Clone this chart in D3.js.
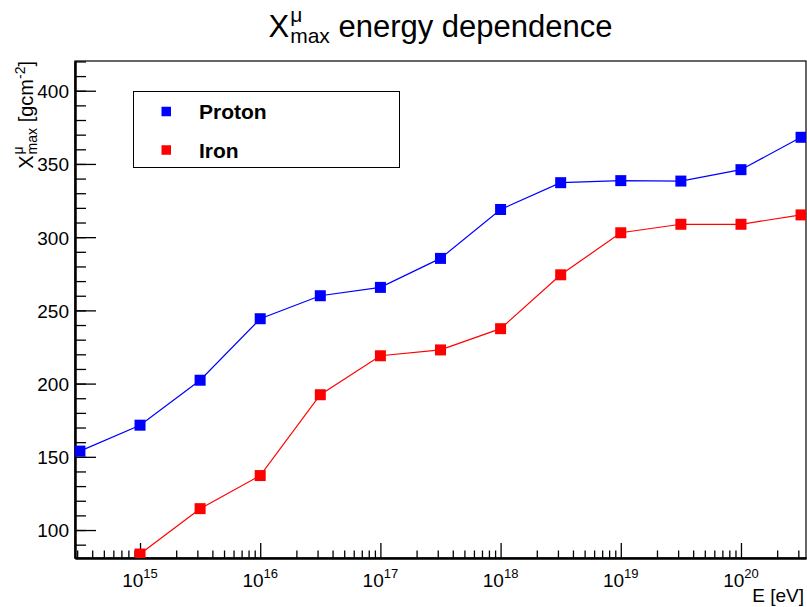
<!DOCTYPE html>
<html><head><meta charset="utf-8">
<script src="https://cdn.jsdelivr.net/npm/d3@7"></script>
<style>
body{margin:0;background:#fff}
svg{display:block}
text{font-family:"Liberation Sans",Arial,Helvetica,sans-serif;fill:#000}
</style>
</head><body>
<svg id="c" width="807" height="607"></svg>
<script>
// ---- data ----
const protonEnergy = [3.162e14, 1e15, 3.162e15, 1e16, 3.162e16, 1e17, 3.162e17, 1e18, 3.162e18, 1e19, 3.162e19, 1e20, 3.162e20];
const protonXmax   = [153.9, 171.6, 202.3, 244.3, 260.0, 265.7, 285.5, 318.9, 337.2, 338.6, 338.3, 346.1, 368.2];
const ironEnergy   = [1e15, 3.162e15, 1e16, 3.162e16, 1e17, 3.162e17, 1e18, 3.162e18, 1e19, 3.162e19, 1e20, 3.162e20];
const ironXmax     = [83.6, 114.6, 137.2, 192.4, 219.0, 223.0, 237.5, 274.3, 303.0, 308.8, 308.8, 315.2];
const seriesNames  = ["Proton", "Iron"];
const seriesColors = ["#0000ff", "#ff0000"];
const yTickValues  = [100, 150, 200, 250, 300, 350, 400];
const yMinorValues = [90,100,110,120,130,140,150,160,170,180,190,200,210,220,230,240,250,260,270,280,290,300,310,320,330,340,350,360,370,380,390,400,410,420];
const xTickExponents = [15, 16, 17, 18, 19, 20];
const xTickValues  = [1e15, 1e16, 1e17, 1e18, 1e19, 1e20];
const xMinorMantissa = [2,3,4,5,6,7,8,9];
const xMinorDecades  = [1e14,1e15,1e16,1e17,1e18,1e19,1e20];

// ---- layout ----
const L = 75, R = 806, T = 61, B = 558;
const svg = d3.select("#c");
const x = d3.scaleLog().domain([Math.pow(10,14.459), Math.pow(10,20.541)]).range([L, R]);
const y = d3.scaleLinear().domain([80.9, 420.3]).range([B, T]);

svg.append("defs").append("clipPath").attr("id","clip")
  .append("rect").attr("x",L).attr("y",T).attr("width",R-L).attr("height",B-T);

// frame
svg.append("rect").attr("x",L).attr("y",T).attr("width",R-L).attr("height",B-T)
  .attr("fill","none").attr("stroke","#000").attr("stroke-width",1.2);

// y axis
const yMinor = svg.append("g").attr("transform",`translate(${L},0)`)
  .call(d3.axisLeft(y).tickValues(yMinorValues.filter(v=>v>=y.domain()[0]&&v<=y.domain()[1])).tickSizeInner(-11).tickSizeOuter(0).tickFormat(""));
const yMajor = svg.append("g").attr("transform",`translate(${L},0)`)
  .call(d3.axisLeft(y).tickValues(yTickValues).tickSizeInner(-21).tickSizeOuter(0).tickPadding(6));
[yMinor,yMajor].forEach(g=>{
  g.select(".domain").attr("stroke","#000").attr("stroke-width",2);
  g.selectAll(".tick line").attr("stroke","#000").attr("stroke-width",1.3);
});
yMajor.selectAll(".tick text").attr("font-size",19).attr("fill","#000")
  .attr("font-family",'"Liberation Sans",Arial,sans-serif').attr("dy","0.36em");

// x axis
const xMinorVals = [];
xMinorDecades.forEach(d=>xMinorMantissa.forEach(m=>{const v=m*d; if(v>=x.domain()[0]&&v<=x.domain()[1]) xMinorVals.push(v);}));
const xMinor = svg.append("g").attr("transform",`translate(0,${B})`)
  .call(d3.axisBottom(x).tickValues(xMinorVals).tickSizeInner(-7.5).tickSizeOuter(0).tickFormat(""));
const xMajor = svg.append("g").attr("transform",`translate(0,${B})`)
  .call(d3.axisBottom(x).tickValues(xTickValues).tickSizeInner(-15).tickSizeOuter(0).tickFormat(""));
[xMinor,xMajor].forEach(g=>{
  g.select(".domain").attr("stroke","#000").attr("stroke-width",2);
  g.selectAll(".tick line").attr("stroke","#000").attr("stroke-width",1.3);
});
xTickValues.forEach((v,i)=>{
  const t = svg.append("text").attr("x",x(v)).attr("y",587).attr("text-anchor","middle").attr("font-size",19);
  t.append("tspan").text("10");
  t.append("tspan").attr("dy",-9).attr("font-size",13).text(String(xTickExponents[i]));
});
svg.append("text").attr("x",804).attr("y",602).attr("text-anchor","end").attr("font-size",19).text("E [eV]");

// series
const line = d3.line().x(d=>x(d[0])).y(d=>y(d[1]));
const series = [
  protonEnergy.map((e,i)=>[e,protonXmax[i]]),
  ironEnergy.map((e,i)=>[e,ironXmax[i]])
];
const plot = svg.append("g").attr("clip-path","url(#clip)");
series.forEach((s,k)=>{
  plot.append("path").datum(s).attr("d",line).attr("fill","none")
    .attr("stroke",seriesColors[k]).attr("stroke-width",1.2);
  plot.selectAll(null).data(s).enter().append("rect")
    .attr("x",d=>x(d[0])-5.5).attr("y",d=>y(d[1])-5.5)
    .attr("width",11).attr("height",11).attr("fill",seriesColors[k]);
});

// legend
const lg = svg.append("g");
lg.append("rect").attr("x",133.5).attr("y",91.5).attr("width",266).attr("height",76)
  .attr("fill","#fff").attr("stroke","#000").attr("stroke-width",1);
seriesNames.forEach((n,k)=>{
  const cy = 111.5 + k*38.5;
  lg.append("rect").attr("x",161.5).attr("y",cy-4.75).attr("width",9.5).attr("height",9.5).attr("fill",seriesColors[k]);
  lg.append("text").attr("x",199).attr("y",cy+7.5).attr("font-size",21).attr("font-weight","bold").text(n);
});

// title: X^mu_max energy dependence
function stacked(g, x0, base, size, main, sup, sub, supSize) {
  const m = g.append("text").attr("x",x0).attr("y",base).attr("font-size",size).text(main);
  const w = m.node().getComputedTextLength();
  const s1 = g.append("text").attr("x",x0+w+1).attr("y",base-size*0.48).attr("font-size",supSize).text(sup);
  const s2 = g.append("text").attr("x",x0+w+1).attr("y",base+size*0.2).attr("font-size",supSize).text(sub);
  const w2 = Math.max(s1.node().getComputedTextLength(), s2.node().getComputedTextLength());
  return x0+w+1+w2;
}
const tg = svg.append("g");
let xe = stacked(tg, 0, 37, 31, "X", "μ", "max", 21);
const rt = tg.append("text").attr("x",xe).attr("y",37).attr("font-size",31).attr("xml:space","preserve").text(" energy dependence");
const tw = xe + rt.node().getComputedTextLength();
tg.attr("transform",`translate(${(L+R)/2 - tw/2},0)`);

// y-axis title (rotated)
const yg = svg.append("g");
const yi = yg.append("g");
let ye = stacked(yi, 0, 0, 20, "X", "μ", "max", 14);
const r1 = yi.append("text").attr("x",ye).attr("y",0).attr("font-size",20).attr("xml:space","preserve").text(" [gcm");
ye += r1.node().getComputedTextLength();
const r2 = yi.append("text").attr("x",ye).attr("y",-8.5).attr("font-size",14).text("-2");
ye += r2.node().getComputedTextLength();
const r3 = yi.append("text").attr("x",ye).attr("y",0).attr("font-size",20).text("]");
ye += r3.node().getComputedTextLength();
yi.attr("transform",`translate(${-ye},0)`);
yg.attr("transform",`translate(33,${T}) rotate(-90)`);
</script>
</body></html>
